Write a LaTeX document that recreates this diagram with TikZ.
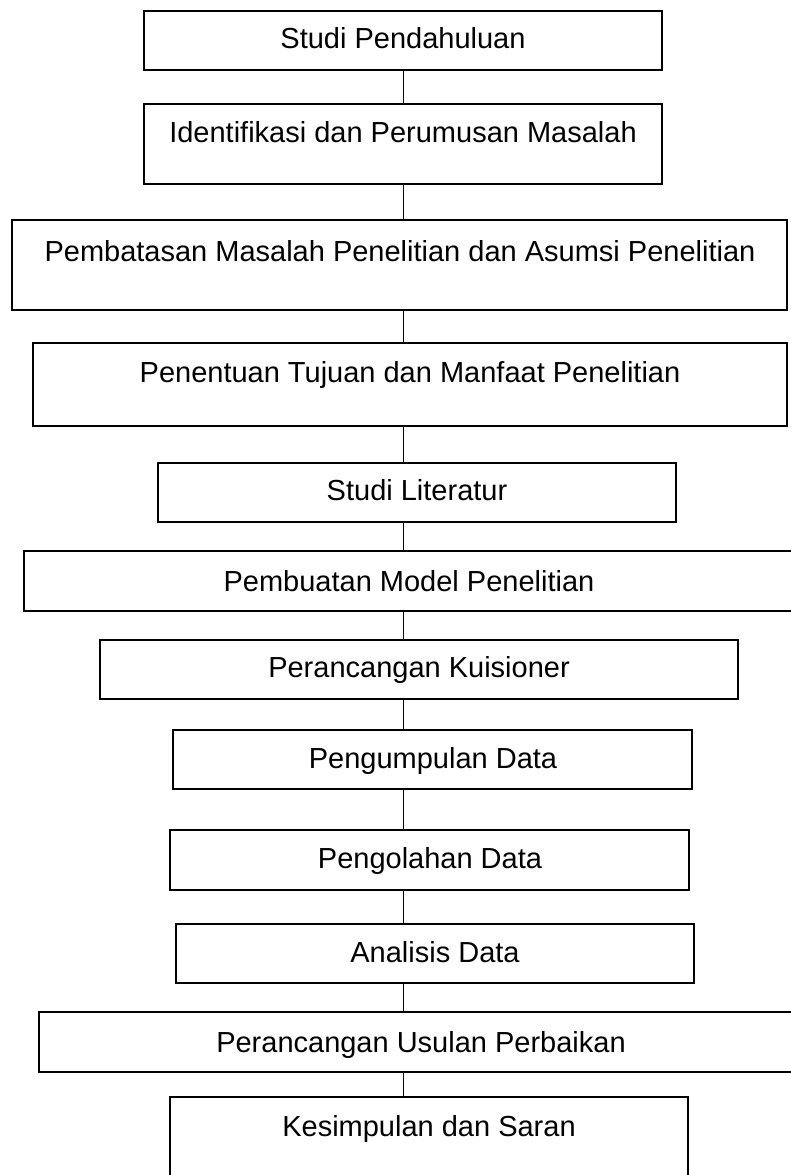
\documentclass[tikz,border=0pt]{standalone}
\usepackage{fontspec}
\setmainfont{Liberation Sans}
\usetikzlibrary{fit}
\begin{document}
\begin{tikzpicture}[x=1pt,y=-1pt,
  box/.style={draw=black, line width=1.6pt, rectangle, inner sep=0pt},
  lbl/.style={anchor=base, inner sep=0pt, font=\fontsize{29}{34}\selectfont},
  conn/.style={draw=black, line width=1.6pt}]
\useasboundingbox (0,0) rectangle (791,1175);
\clip (0,0) rectangle (791,1175);
\coordinate (cx) at (403.5,0);
% boxes
\node[box, fit={(144,11) (662,70)}] (b1) {};
\node[box, fit={(144,104) (662,184)}] (b2) {};
\node[box, fit={(12,220) (787,310)}] (b3) {};
\node[box, fit={(33,343) (787,426)}] (b4) {};
\node[box, fit={(158,463) (676,522)}] (b5) {};
\node[box, fit={(24,551) (794,611)}] (b6) {};
\node[box, fit={(100,640) (738,699)}] (b7) {};
\node[box, fit={(173,730) (692,789)}] (b8) {};
\node[box, fit={(170,830) (689,890)}] (b9) {};
\node[box, fit={(176,924) (694,983)}] (b10) {};
\node[box, fit={(39,1012) (803,1072)}] (b11) {};
\node[box, fit={(170,1097) (688,1200)}] (b12) {};
% labels
\node[lbl] (t1) at (403,48) {Studi Pendahuluan};
\node[lbl] (t2) at (403,142) {Identifikasi dan Perumusan Masalah};
\node[lbl] (t3) at (400,261) {Pembatasan Masalah Penelitian dan Asumsi Penelitian};
\node[lbl] (t4) at (410,382) {Penentuan Tujuan dan Manfaat Penelitian};
\node[lbl] (t5) at (417,500) {Studi Literatur};
\node[lbl] (t6) at (409,591) {Pembuatan Model Penelitian};
\node[lbl] (t7) at (419,677) {Perancangan Kuisioner};
\node[lbl] (t8) at (433,768) {Pengumpulan Data};
\node[lbl] (t9) at (430,868) {Pengolahan Data};
\node[lbl] (t10) at (435,962) {Analisis Data};
\node[lbl] (t11) at (421,1052) {Perancangan Usulan Perbaikan};
\node[lbl] (t12) at (429,1136) {Kesimpulan dan Saran};
% connectors
\foreach \a/\b in {b1/b2,b2/b3,b3/b4,b4/b5,b5/b6,b6/b7,b7/b8,b8/b9,b9/b10,b10/b11,b11/b12}
  \draw[conn] (\a.south -| cx) -- (\b.north -| cx);
\end{tikzpicture}
\end{document}
